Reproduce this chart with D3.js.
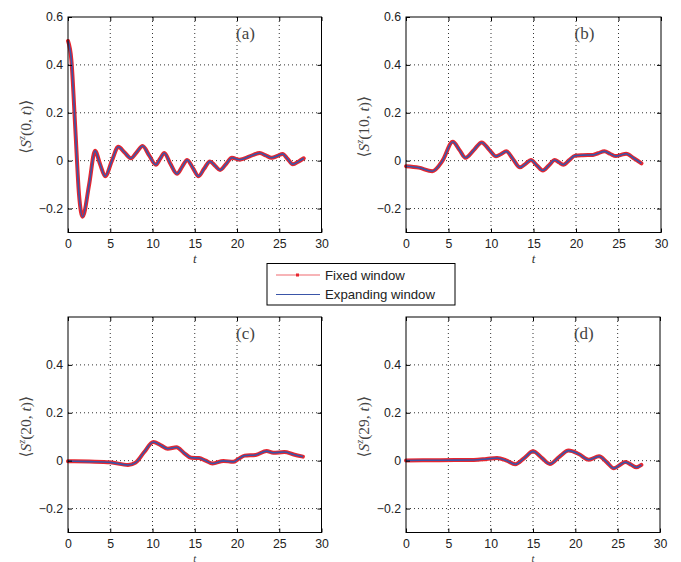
<!DOCTYPE html>
<html><head><meta charset="utf-8">
<script src="https://cdn.jsdelivr.net/npm/d3@7"></script>
<style>
body{margin:0;background:#fff;}
svg{display:block;}
.tick text{font-family:"Liberation Sans",Arial,sans-serif;font-size:12.3px;fill:#222;}
</style></head>
<body>
<svg id="c" width="681" height="562"></svg>
<script>
// ---- data ----
const xTicks = [0,5,10,15,20,25,30];
const yTicksTop = [-0.2,0,0.2,0.4,0.6];
const yTicksBottom = [-0.2,0,0.2,0.4];
const panelLabels = ["(a)","(b)","(c)","(d)"];
const siteLabels = ["0","10","20","29"];
const seriesNames = ["Fixed window","Expanding window"];

// panel (a): site 0
const tA = [0,0.4,0.87,1.3,1.73,2.5,3.2,3.8,4.4,5.2,5.95,6.7,7.45,8.1,8.83,9.6,10.4,10.9,11.4,12.1,12.9,13.5,14.1,14.8,15.45,16.1,16.8,17.4,18.0,18.7,19.4,20.3,21.5,22.7,23.4,24.1,24.8,25.4,26.0,26.6,27.3,27.9];
const vA = [0.5,0.42,0.13,-0.14,-0.234,-0.1,0.041,-0.015,-0.065,0.0,0.058,0.034,0.01,0.034,0.061,0.022,-0.017,0.008,0.032,-0.012,-0.055,-0.026,0.003,-0.032,-0.065,-0.034,-0.003,-0.021,-0.039,-0.014,0.012,0.004,0.018,0.032,0.022,0.012,0.02,0.028,0.007,-0.015,-0.003,0.01];
// panel (b): site 10
const tB = [0,1.5,3.1,4.3,5.5,6.3,7.0,8.0,8.9,9.8,10.6,11.2,11.8,12.6,13.4,14.1,14.7,15.4,16.1,16.8,17.5,18.0,18.5,19.2,19.9,20.8,22.0,22.6,23.35,24.0,24.7,25.3,25.9,26.8,27.7];
const vB = [-0.023,-0.029,-0.044,0.0,0.079,0.044,0.012,0.045,0.076,0.045,0.018,0.028,0.039,0.006,-0.028,-0.012,0.003,-0.02,-0.041,-0.02,0.003,-0.007,-0.017,0.002,0.021,0.023,0.024,0.031,0.039,0.029,0.019,0.024,0.029,0.01,-0.011];
// panel (c): site 20
const tC = [0,2.5,5,7.1,8.0,9.0,10.1,11.0,11.8,12.85,13.7,14.6,15.5,16.3,17.1,18.4,19.55,20.2,20.9,22.2,23.5,24.3,25.6,26.7,27.8];
const vC = [-0.002,-0.004,-0.007,-0.018,-0.008,0.035,0.078,0.064,0.05,0.056,0.033,0.012,0.011,0.0,-0.012,-0.001,-0.005,0.008,0.021,0.024,0.04,0.033,0.036,0.026,0.017];
// panel (d): site 29
const tD = [0,4,8,9.5,10.75,11.9,12.9,14.0,15.0,16.0,17.0,18.1,19.2,20.4,21.6,22.8,23.7,24.55,25.3,25.9,26.6,27.2,27.8];
const vD = [0.001,0.002,0.003,0.007,0.011,0.0,-0.015,0.012,0.039,0.013,-0.014,0.016,0.042,0.028,0.004,0.018,-0.006,-0.032,-0.017,-0.006,-0.017,-0.028,-0.018];

const panels = [
  {t:tA,v:vA,left:68,right:321.5,top:17,bottom:232.5,yt:yTicksTop,tOff:30,tSize:13},
  {t:tB,v:vB,left:406,right:661,top:17,bottom:232.5,yt:yTicksTop,tOff:30,tSize:13},
  {t:tC,v:vC,left:68,right:321.5,top:317,bottom:532.5,yt:yTicksBottom,tOff:29,tSize:10.5},
  {t:tD,v:vD,left:406,right:660,top:317,bottom:532.5,yt:yTicksBottom,tOff:29,tSize:10.5}
];

const svg = d3.select("#c");
const fmt = d => d===0 ? "0" : (d<0 ? "\u2212"+Math.abs(d).toFixed(1) : d.toFixed(1));

panels.forEach((p,i)=>{
  const x = d3.scaleLinear().domain([0,30]).range([p.left,p.right]);
  const y = d3.scaleLinear().domain([-0.3,0.6]).range([p.bottom,p.top]);
  const g = svg.append("g");
  // grid
  const gridX = xTicks.filter(d=>d>0&&d<30);
  const gridY = [-0.2,0,0.2,0.4];
  g.selectAll(".gx").data(gridX).enter().append("line")
    .attr("x1",d=>x(d)).attr("x2",d=>x(d)).attr("y1",p.top).attr("y2",p.bottom)
    .attr("stroke","#333").attr("stroke-width",1).attr("stroke-dasharray","1,3");
  g.selectAll(".gy").data(gridY).enter().append("line")
    .attr("x1",p.left).attr("x2",p.right).attr("y1",d=>y(d)).attr("y2",d=>y(d))
    .attr("stroke","#333").attr("stroke-width",1).attr("stroke-dasharray","1,3");
  // data
  const pts = p.t.map((t,k)=>[t,p.v[k]]);
  const line = d3.line().x(d=>x(d[0])).y(d=>y(d[1])).curve(d3.curveMonotoneX);
  g.append("path").attr("d",line(pts)).attr("fill","none")
    .attr("stroke","#e8262e").attr("stroke-width",4).attr("stroke-linejoin","round").attr("stroke-linecap","round");
  g.append("path").attr("d",line(pts)).attr("fill","none")
    .attr("stroke","#3a55a8").attr("stroke-width",1.6).attr("stroke-linejoin","round");
  // axes
  g.append("g").attr("transform",`translate(0,${p.bottom})`)
    .call(d3.axisBottom(x).tickValues(xTicks).tickSize(-4).tickPadding(7).tickFormat(d3.format("d")));
  g.append("g").attr("transform",`translate(${p.left},0)`)
    .call(d3.axisLeft(y).tickValues(p.yt).tickSize(-4).tickPadding(5).tickFormat(fmt));
  g.append("g").attr("transform",`translate(0,${p.top})`)
    .call(d3.axisTop(x).tickValues(xTicks).tickSize(-4).tickFormat(""));
  g.append("g").attr("transform",`translate(${p.right},0)`)
    .call(d3.axisRight(y).tickValues(yTicksTop.filter(d=>d<0.6)).tickSize(-4).tickFormat(""));
  g.selectAll(".domain").remove();
  g.selectAll(".tick line").attr("stroke","#000");
  g.append("rect").attr("x",p.left).attr("y",p.top).attr("width",p.right-p.left).attr("height",p.bottom-p.top)
    .attr("fill","none").attr("stroke","#000").attr("stroke-width",1);
  // x label
  g.append("text").attr("x",(p.left+p.right)/2).attr("y",p.bottom+p.tOff)
    .attr("text-anchor","middle").attr("font-family","'Liberation Serif','DejaVu Serif',serif")
    .attr("font-style","italic").attr("font-size",p.tSize).attr("fill","#333").text("t");
  // y label
  const yl = g.append("text").attr("transform",`translate(${p.left-37},${(p.top+p.bottom)/2+2}) rotate(-90)`)
    .attr("text-anchor","middle").attr("font-family","'Liberation Serif','DejaVu Serif',serif")
    .attr("font-size",15.5).attr("fill","#444");
  yl.append("tspan").text("\u27E8");
  yl.append("tspan").attr("font-style","italic").text("S");
  yl.append("tspan").attr("font-style","italic").attr("font-size",10).attr("dy",-6).text("z");
  yl.append("tspan").attr("dy",6).text("("+siteLabels[i]+", ");
  yl.append("tspan").attr("font-style","italic").text("t");
  yl.append("tspan").text(")\u27E9");
  // panel label
  g.append("text").attr("x",x(21)).attr("y",p.top+21.5)
    .attr("text-anchor","middle").attr("font-family","'Liberation Serif','DejaVu Serif',serif")
    .attr("font-size",17).attr("fill","#444").text(panelLabels[i]);
});

// legend
const lg = svg.append("g");
lg.append("rect").attr("x",267).attr("y",263.5).attr("width",188).attr("height",41.5)
  .attr("fill","#fff").attr("stroke","#000").attr("stroke-width",1);
const legColors = ["#f06a70","#3a55a8"];
seriesNames.forEach((n,k)=>{
  const yy = 275+k*19.5;
  lg.append("line").attr("x1",276).attr("x2",320).attr("y1",yy).attr("y2",yy)
    .attr("stroke",legColors[k]).attr("stroke-width",1.2);
  if(k===0) lg.append("rect").attr("x",296).attr("y",yy-1.5).attr("width",3).attr("height",3).attr("fill","#e8262e");
  lg.append("text").attr("x",325).attr("y",yy+4.5).attr("font-family","'Liberation Sans',Arial,sans-serif")
    .attr("font-size",13.2).attr("fill","#222").text(n);
});
</script>
</body></html>
